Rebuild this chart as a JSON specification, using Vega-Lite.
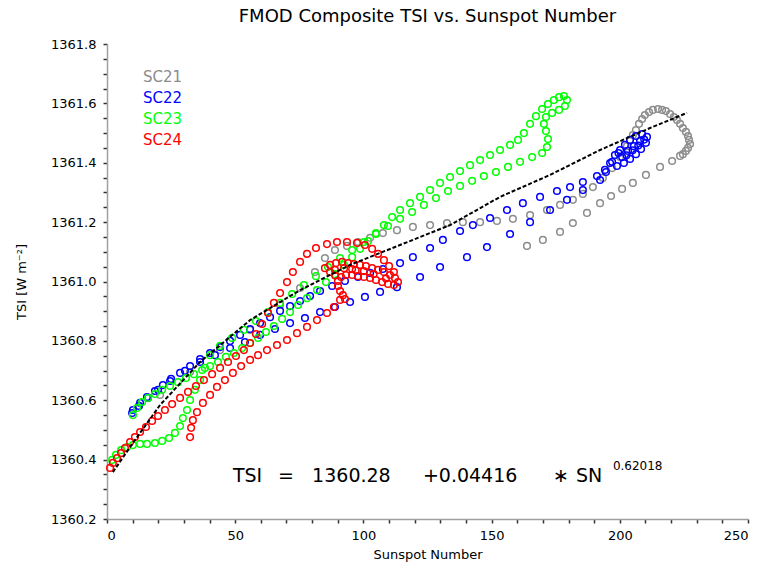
{
  "$schema": "https://vega.github.io/schema/vega-lite/v6.json",
  "width": 641,
  "height": 475,
  "autosize": {"type": "none"},
  "padding": {"left": 107, "top": 44, "right": 19, "bottom": 61},
  "background": "white",
  "title": {"text": "FMOD Composite TSI vs. Sunspot Number", "font": "DejaVu Sans", "fontSize": 18, "fontWeight": "normal", "color": "black", "offset": 12, "anchor": "middle"},
  "config": {
    "view": {"stroke": null, "fill": null},
    "axis": {"grid": false, "ticks": true, "zindex": 1, "domainColor": "#a0a0a0", "domainWidth": 1.5, "tickColor": "#333333", "tickWidth": 1.5, "labelFont": "DejaVu Sans", "labelFontSize": 13, "labelColor": "black", "titleFont": "DejaVu Sans", "titleFontSize": 13, "titleFontWeight": "normal", "titleColor": "black", "labelOverlap": false}
  },
  "datasets": {
    "pts": [
      {"c":"SC21","sn":20.7,"tsi":1360.618},{"c":"SC21","sn":32.4,"tsi":1360.695},{"c":"SC21","sn":44.1,"tsi":1360.769},{"c":"SC21","sn":55.8,"tsi":1360.837},{"c":"SC21","sn":67.5,"tsi":1360.921},{"c":"SC21","sn":75.3,"tsi":1360.978},{"c":"SC21","sn":81.1,"tsi":1361.032},{"c":"SC21","sn":85.0,"tsi":1361.079},
      {"c":"SC21","sn":88.9,"tsi":1361.106},{"c":"SC21","sn":93.6,"tsi":1361.120},{"c":"SC21","sn":97.9,"tsi":1361.133},{"c":"SC21","sn":102.6,"tsi":1361.147},{"c":"SC21","sn":107.6,"tsi":1361.163},{"c":"SC21","sn":113.1,"tsi":1361.173},{"c":"SC21","sn":119.3,"tsi":1361.184},{"c":"SC21","sn":126.0,"tsi":1361.190},{"c":"SC21","sn":132.6,"tsi":1361.197},{"c":"SC21","sn":138.8,"tsi":1361.200},{"c":"SC21","sn":145.5,"tsi":1361.200},{"c":"SC21","sn":152.1,"tsi":1361.204},{"c":"SC21","sn":158.3,"tsi":1361.211},{"c":"SC21","sn":165.0,"tsi":1361.224},{"c":"SC21","sn":171.6,"tsi":1361.241},{"c":"SC21","sn":176.7,"tsi":1361.258},{"c":"SC21","sn":181.7,"tsi":1361.275},{"c":"SC21","sn":185.6,"tsi":1361.295},{"c":"SC21","sn":189.5,"tsi":1361.318},{"c":"SC21","sn":193.4,"tsi":1361.349},{"c":"SC21","sn":197.0,"tsi":1361.382},{"c":"SC21","sn":200.1,"tsi":1361.419},{"c":"SC21","sn":202.8,"tsi":1361.456},{"c":"SC21","sn":205.1,"tsi":1361.493},{"c":"SC21","sn":207.5,"tsi":1361.531},{"c":"SC21","sn":209.8,"tsi":1361.561},{"c":"SC21","sn":212.9,"tsi":1361.578},{"c":"SC21","sn":216.5,"tsi":1361.578},{"c":"SC21","sn":219.6,"tsi":1361.564},{"c":"SC21","sn":222.3,"tsi":1361.544},{"c":"SC21","sn":224.6,"tsi":1361.517},{"c":"SC21","sn":226.6,"tsi":1361.490},{"c":"SC21","sn":227.4,"tsi":1361.463},{"c":"SC21","sn":225.8,"tsi":1361.440},{"c":"SC21","sn":223.5,"tsi":1361.423},
      {"c":"SC21","sn":204.0,"tsi":1361.477},{"c":"SC21","sn":206.3,"tsi":1361.510},{"c":"SC21","sn":208.7,"tsi":1361.547},{"c":"SC21","sn":211.4,"tsi":1361.571},{"c":"SC21","sn":214.9,"tsi":1361.581},{"c":"SC21","sn":218.0,"tsi":1361.574},{"c":"SC21","sn":221.1,"tsi":1361.554},{"c":"SC21","sn":223.5,"tsi":1361.531},{"c":"SC21","sn":225.8,"tsi":1361.504},{"c":"SC21","sn":227.0,"tsi":1361.477},{"c":"SC21","sn":226.6,"tsi":1361.450},{"c":"SC21","sn":224.6,"tsi":1361.429},
      {"c":"SC21","sn":220.4,"tsi":1361.406},{"c":"SC21","sn":215.7,"tsi":1361.386},{"c":"SC21","sn":210.2,"tsi":1361.359},{"c":"SC21","sn":205.1,"tsi":1361.332},{"c":"SC21","sn":200.9,"tsi":1361.312},{"c":"SC21","sn":196.6,"tsi":1361.288},{"c":"SC21","sn":192.3,"tsi":1361.264},{"c":"SC21","sn":187.2,"tsi":1361.231},{"c":"SC21","sn":181.7,"tsi":1361.197},{"c":"SC21","sn":176.7,"tsi":1361.167},{"c":"SC21","sn":170.0,"tsi":1361.140},{"c":"SC21","sn":163.8,"tsi":1361.120},

      {"c":"SC22","sn":10.1,"tsi":1360.567},{"c":"SC22","sn":12.9,"tsi":1360.591},{"c":"SC22","sn":15.6,"tsi":1360.611},{"c":"SC22","sn":18.7,"tsi":1360.631},{"c":"SC22","sn":21.8,"tsi":1360.651},{"c":"SC22","sn":25.0,"tsi":1360.672},{"c":"SC22","sn":28.5,"tsi":1360.692},{"c":"SC22","sn":32.4,"tsi":1360.715},{"c":"SC22","sn":36.3,"tsi":1360.739},{"c":"SC22","sn":40.2,"tsi":1360.759},{"c":"SC22","sn":44.1,"tsi":1360.779},{"c":"SC22","sn":48.0,"tsi":1360.800},{"c":"SC22","sn":51.9,"tsi":1360.820},{"c":"SC22","sn":55.8,"tsi":1360.840},{"c":"SC22","sn":59.7,"tsi":1360.860},{"c":"SC22","sn":63.6,"tsi":1360.880},{"c":"SC22","sn":67.5,"tsi":1360.901},{"c":"SC22","sn":71.4,"tsi":1360.917},{"c":"SC22","sn":75.3,"tsi":1360.934},{"c":"SC22","sn":79.2,"tsi":1360.951},{"c":"SC22","sn":83.1,"tsi":1360.968},{"c":"SC22","sn":87.8,"tsi":1360.985},{"c":"SC22","sn":92.8,"tsi":1361.002},{"c":"SC22","sn":97.9,"tsi":1361.015},{"c":"SC22","sn":102.6,"tsi":1361.029},{"c":"SC22","sn":107.6,"tsi":1361.042},{"c":"SC22","sn":114.3,"tsi":1361.062},{"c":"SC22","sn":119.3,"tsi":1361.082},{"c":"SC22","sn":126.0,"tsi":1361.113},{"c":"SC22","sn":131.0,"tsi":1361.140},{"c":"SC22","sn":137.7,"tsi":1361.170},{"c":"SC22","sn":142.7,"tsi":1361.190},{"c":"SC22","sn":149.4,"tsi":1361.214},{"c":"SC22","sn":156.0,"tsi":1361.241},{"c":"SC22","sn":162.2,"tsi":1361.264},{"c":"SC22","sn":168.9,"tsi":1361.285},{"c":"SC22","sn":175.5,"tsi":1361.305},{"c":"SC22","sn":180.6,"tsi":1361.318},{"c":"SC22","sn":185.6,"tsi":1361.335},{"c":"SC22","sn":191.1,"tsi":1361.355},{"c":"SC22","sn":194.2,"tsi":1361.376},{"c":"SC22","sn":197.0,"tsi":1361.403},
      {"c":"SC22","sn":198.1,"tsi":1361.426},{"c":"SC22","sn":200.1,"tsi":1361.443},{"c":"SC22","sn":202.0,"tsi":1361.460},{"c":"SC22","sn":204.0,"tsi":1361.477},{"c":"SC22","sn":206.3,"tsi":1361.490},{"c":"SC22","sn":208.7,"tsi":1361.497},{"c":"SC22","sn":210.6,"tsi":1361.487},{"c":"SC22","sn":210.2,"tsi":1361.467},{"c":"SC22","sn":208.3,"tsi":1361.446},{"c":"SC22","sn":206.3,"tsi":1361.429},{"c":"SC22","sn":204.0,"tsi":1361.413},{"c":"SC22","sn":201.6,"tsi":1361.399},{"c":"SC22","sn":198.9,"tsi":1361.389},{"c":"SC22","sn":200.9,"tsi":1361.419},{"c":"SC22","sn":203.2,"tsi":1361.440},{"c":"SC22","sn":205.5,"tsi":1361.456},{"c":"SC22","sn":207.9,"tsi":1361.473},{"c":"SC22","sn":196.2,"tsi":1361.399},{"c":"SC22","sn":199.5,"tsi":1361.433},{"c":"SC22","sn":202.6,"tsi":1361.425},{"c":"SC22","sn":205.0,"tsi":1361.442},{"c":"SC22","sn":207.2,"tsi":1361.458},{"c":"SC22","sn":209.5,"tsi":1361.478},
      {"c":"SC22","sn":194.6,"tsi":1361.369},{"c":"SC22","sn":192.3,"tsi":1361.342},{"c":"SC22","sn":185.6,"tsi":1361.308},{"c":"SC22","sn":179.4,"tsi":1361.275},{"c":"SC22","sn":172.8,"tsi":1361.241},{"c":"SC22","sn":165.0,"tsi":1361.200},{"c":"SC22","sn":157.2,"tsi":1361.160},{"c":"SC22","sn":148.2,"tsi":1361.116},{"c":"SC22","sn":140.4,"tsi":1361.082},{"c":"SC22","sn":129.9,"tsi":1361.049},{"c":"SC22","sn":122.1,"tsi":1361.015},{"c":"SC22","sn":113.1,"tsi":1360.981},{"c":"SC22","sn":106.5,"tsi":1360.965},{"c":"SC22","sn":100.6,"tsi":1360.948},{"c":"SC22","sn":94.8,"tsi":1360.931},{"c":"SC22","sn":88.9,"tsi":1360.914},{"c":"SC22","sn":83.1,"tsi":1360.897},{"c":"SC22","sn":77.2,"tsi":1360.877},{"c":"SC22","sn":71.4,"tsi":1360.860},{"c":"SC22","sn":65.5,"tsi":1360.840},{"c":"SC22","sn":59.7,"tsi":1360.820},{"c":"SC22","sn":53.8,"tsi":1360.796},{"c":"SC22","sn":48.0,"tsi":1360.776},{"c":"SC22","sn":42.1,"tsi":1360.752},{"c":"SC22","sn":36.3,"tsi":1360.729},{"c":"SC22","sn":30.4,"tsi":1360.699},{"c":"SC22","sn":24.6,"tsi":1360.665},{"c":"SC22","sn":19.9,"tsi":1360.635},{"c":"SC22","sn":16.0,"tsi":1360.608},{"c":"SC22","sn":12.5,"tsi":1360.581},{"c":"SC22","sn":9.8,"tsi":1360.557},

      {"c":"SC23","sn":10.1,"tsi":1360.550},{"c":"SC23","sn":11.7,"tsi":1360.574},{"c":"SC23","sn":13.7,"tsi":1360.594},{"c":"SC23","sn":16.0,"tsi":1360.608},{"c":"SC23","sn":18.7,"tsi":1360.621},{"c":"SC23","sn":21.5,"tsi":1360.635},{"c":"SC23","sn":24.6,"tsi":1360.648},{"c":"SC23","sn":27.7,"tsi":1360.661},{"c":"SC23","sn":30.8,"tsi":1360.675},{"c":"SC23","sn":33.9,"tsi":1360.688},{"c":"SC23","sn":37.1,"tsi":1360.702},{"c":"SC23","sn":40.2,"tsi":1360.715},{"c":"SC23","sn":43.3,"tsi":1360.729},{"c":"SC23","sn":46.4,"tsi":1360.746},{"c":"SC23","sn":49.5,"tsi":1360.759},{"c":"SC23","sn":52.7,"tsi":1360.776},{"c":"SC23","sn":55.8,"tsi":1360.793},{"c":"SC23","sn":58.9,"tsi":1360.810},{"c":"SC23","sn":62.0,"tsi":1360.830},{"c":"SC23","sn":65.1,"tsi":1360.850},{"c":"SC23","sn":68.3,"tsi":1360.874},{"c":"SC23","sn":71.4,"tsi":1360.897},{"c":"SC23","sn":74.5,"tsi":1360.921},{"c":"SC23","sn":78.0,"tsi":1360.944},{"c":"SC23","sn":81.9,"tsi":1360.971},{"c":"SC23","sn":85.4,"tsi":1360.998},{"c":"SC23","sn":88.9,"tsi":1361.025},{"c":"SC23","sn":92.4,"tsi":1361.056},{"c":"SC23","sn":95.6,"tsi":1361.082},{"c":"SC23","sn":98.7,"tsi":1361.110},{"c":"SC23","sn":101.8,"tsi":1361.136},{"c":"SC23","sn":104.9,"tsi":1361.163},{"c":"SC23","sn":108.0,"tsi":1361.190},{"c":"SC23","sn":111.2,"tsi":1361.217},{"c":"SC23","sn":114.3,"tsi":1361.241},{"c":"SC23","sn":118.2,"tsi":1361.264},{"c":"SC23","sn":122.1,"tsi":1361.285},{"c":"SC23","sn":126.0,"tsi":1361.308},{"c":"SC23","sn":129.9,"tsi":1361.332},{"c":"SC23","sn":133.8,"tsi":1361.352},{"c":"SC23","sn":137.7,"tsi":1361.372},{"c":"SC23","sn":141.6,"tsi":1361.392},{"c":"SC23","sn":145.5,"tsi":1361.409},{"c":"SC23","sn":149.4,"tsi":1361.426},{"c":"SC23","sn":153.3,"tsi":1361.443},{"c":"SC23","sn":157.2,"tsi":1361.460},{"c":"SC23","sn":160.3,"tsi":1361.477},{"c":"SC23","sn":162.6,"tsi":1361.500},{"c":"SC23","sn":165.0,"tsi":1361.531},{"c":"SC23","sn":167.3,"tsi":1361.557},{"c":"SC23","sn":169.7,"tsi":1361.581},{"c":"SC23","sn":172.0,"tsi":1361.598},{"c":"SC23","sn":174.3,"tsi":1361.611},{"c":"SC23","sn":176.3,"tsi":1361.621},{"c":"SC23","sn":178.2,"tsi":1361.625},{"c":"SC23","sn":179.4,"tsi":1361.611},{"c":"SC23","sn":178.6,"tsi":1361.591},{"c":"SC23","sn":176.3,"tsi":1361.578},{"c":"SC23","sn":173.6,"tsi":1361.568},{"c":"SC23","sn":171.2,"tsi":1361.554},{"c":"SC23","sn":170.4,"tsi":1361.531},{"c":"SC23","sn":171.2,"tsi":1361.507},{"c":"SC23","sn":172.0,"tsi":1361.480},{"c":"SC23","sn":171.6,"tsi":1361.453},
      {"c":"SC23","sn":169.7,"tsi":1361.433},{"c":"SC23","sn":165.8,"tsi":1361.419},{"c":"SC23","sn":161.1,"tsi":1361.403},{"c":"SC23","sn":156.4,"tsi":1361.386},{"c":"SC23","sn":151.7,"tsi":1361.369},{"c":"SC23","sn":147.0,"tsi":1361.355},{"c":"SC23","sn":142.4,"tsi":1361.339},{"c":"SC23","sn":137.7,"tsi":1361.322},{"c":"SC23","sn":133.0,"tsi":1361.305},{"c":"SC23","sn":128.3,"tsi":1361.281},{"c":"SC23","sn":123.6,"tsi":1361.258},{"c":"SC23","sn":119.0,"tsi":1361.234},{"c":"SC23","sn":114.3,"tsi":1361.211},{"c":"SC23","sn":109.6,"tsi":1361.187},{"c":"SC23","sn":104.9,"tsi":1361.160},{"c":"SC23","sn":100.2,"tsi":1361.133},{"c":"SC23","sn":95.6,"tsi":1361.106},{"c":"SC23","sn":90.9,"tsi":1361.079},{"c":"SC23","sn":86.2,"tsi":1361.049},{"c":"SC23","sn":81.5,"tsi":1361.018},{"c":"SC23","sn":76.8,"tsi":1360.988},{"c":"SC23","sn":72.2,"tsi":1360.958},{"c":"SC23","sn":67.5,"tsi":1360.928},{"c":"SC23","sn":62.8,"tsi":1360.897},{"c":"SC23","sn":58.1,"tsi":1360.867},{"c":"SC23","sn":53.4,"tsi":1360.837},{"c":"SC23","sn":48.8,"tsi":1360.810},{"c":"SC23","sn":44.1,"tsi":1360.783},{"c":"SC23","sn":40.2,"tsi":1360.752},{"c":"SC23","sn":38.2,"tsi":1360.709},{"c":"SC23","sn":36.3,"tsi":1360.668},{"c":"SC23","sn":34.3,"tsi":1360.635},{"c":"SC23","sn":32.4,"tsi":1360.601},{"c":"SC23","sn":31.2,"tsi":1360.567},{"c":"SC23","sn":29.6,"tsi":1360.540},{"c":"SC23","sn":28.5,"tsi":1360.513},{"c":"SC23","sn":26.5,"tsi":1360.490},{"c":"SC23","sn":24.2,"tsi":1360.473},{"c":"SC23","sn":21.5,"tsi":1360.463},{"c":"SC23","sn":18.7,"tsi":1360.456},{"c":"SC23","sn":15.6,"tsi":1360.453},{"c":"SC23","sn":12.9,"tsi":1360.453},{"c":"SC23","sn":10.1,"tsi":1360.449},{"c":"SC23","sn":7.8,"tsi":1360.442},{"c":"SC23","sn":5.5,"tsi":1360.432},{"c":"SC23","sn":3.5,"tsi":1360.416},{"c":"SC23","sn":2.0,"tsi":1360.399},

      {"c":"SC24","sn":1.2,"tsi":1360.372},{"c":"SC24","sn":2.3,"tsi":1360.389},{"c":"SC24","sn":3.9,"tsi":1360.405},{"c":"SC24","sn":5.5,"tsi":1360.422},{"c":"SC24","sn":7.0,"tsi":1360.439},{"c":"SC24","sn":9.0,"tsi":1360.459},{"c":"SC24","sn":10.9,"tsi":1360.476},{"c":"SC24","sn":12.9,"tsi":1360.493},{"c":"SC24","sn":15.2,"tsi":1360.510},{"c":"SC24","sn":17.6,"tsi":1360.530},{"c":"SC24","sn":19.9,"tsi":1360.547},{"c":"SC24","sn":22.6,"tsi":1360.567},{"c":"SC24","sn":25.4,"tsi":1360.587},{"c":"SC24","sn":28.5,"tsi":1360.608},{"c":"SC24","sn":31.6,"tsi":1360.628},{"c":"SC24","sn":34.7,"tsi":1360.648},{"c":"SC24","sn":37.8,"tsi":1360.668},{"c":"SC24","sn":41.0,"tsi":1360.688},{"c":"SC24","sn":44.1,"tsi":1360.709},{"c":"SC24","sn":47.2,"tsi":1360.729},{"c":"SC24","sn":50.3,"tsi":1360.749},{"c":"SC24","sn":53.4,"tsi":1360.769},{"c":"SC24","sn":55.8,"tsi":1360.793},{"c":"SC24","sn":58.1,"tsi":1360.823},{"c":"SC24","sn":60.5,"tsi":1360.857},{"c":"SC24","sn":62.8,"tsi":1360.894},{"c":"SC24","sn":65.1,"tsi":1360.928},{"c":"SC24","sn":67.5,"tsi":1360.961},{"c":"SC24","sn":70.2,"tsi":1360.998},{"c":"SC24","sn":72.5,"tsi":1361.032},{"c":"SC24","sn":75.3,"tsi":1361.066},{"c":"SC24","sn":78.0,"tsi":1361.093},{"c":"SC24","sn":81.5,"tsi":1361.113},{"c":"SC24","sn":85.8,"tsi":1361.126},{"c":"SC24","sn":89.7,"tsi":1361.133},{"c":"SC24","sn":93.6,"tsi":1361.133},{"c":"SC24","sn":97.5,"tsi":1361.130},{"c":"SC24","sn":100.6,"tsi":1361.123},{"c":"SC24","sn":103.4,"tsi":1361.110},{"c":"SC24","sn":105.7,"tsi":1361.093},{"c":"SC24","sn":108.0,"tsi":1361.072},{"c":"SC24","sn":110.0,"tsi":1361.052},{"c":"SC24","sn":111.9,"tsi":1361.032},
      {"c":"SC24","sn":85.0,"tsi":1361.045},{"c":"SC24","sn":87.0,"tsi":1361.056},{"c":"SC24","sn":89.3,"tsi":1361.062},{"c":"SC24","sn":91.7,"tsi":1361.066},{"c":"SC24","sn":94.0,"tsi":1361.062},{"c":"SC24","sn":96.3,"tsi":1361.059},{"c":"SC24","sn":98.7,"tsi":1361.056},{"c":"SC24","sn":101.0,"tsi":1361.052},{"c":"SC24","sn":103.4,"tsi":1361.045},{"c":"SC24","sn":105.7,"tsi":1361.039},{"c":"SC24","sn":108.0,"tsi":1361.032},{"c":"SC24","sn":110.4,"tsi":1361.022},{"c":"SC24","sn":112.3,"tsi":1361.012},{"c":"SC24","sn":113.5,"tsi":1360.998},{"c":"SC24","sn":111.9,"tsi":1360.988},{"c":"SC24","sn":109.6,"tsi":1360.992},{"c":"SC24","sn":107.3,"tsi":1360.998},{"c":"SC24","sn":104.9,"tsi":1361.005},{"c":"SC24","sn":102.6,"tsi":1361.012},{"c":"SC24","sn":100.2,"tsi":1361.015},{"c":"SC24","sn":97.9,"tsi":1361.018},{"c":"SC24","sn":95.6,"tsi":1361.022},{"c":"SC24","sn":93.2,"tsi":1361.022},{"c":"SC24","sn":91.3,"tsi":1361.015},{"c":"SC24","sn":90.1,"tsi":1361.002},{"c":"SC24","sn":90.1,"tsi":1360.985},{"c":"SC24","sn":90.9,"tsi":1360.968},{"c":"SC24","sn":92.0,"tsi":1360.954},{"c":"SC24","sn":92.8,"tsi":1360.941},{"c":"SC24","sn":87.0,"tsi":1361.032},{"c":"SC24","sn":88.9,"tsi":1361.039},{"c":"SC24","sn":95.6,"tsi":1361.042},{"c":"SC24","sn":100.2,"tsi":1361.035},{"c":"SC24","sn":92.5,"tsi":1361.045},{"c":"SC24","sn":97.0,"tsi":1361.038},{"c":"SC24","sn":104.0,"tsi":1361.025},{"c":"SC24","sn":108.8,"tsi":1361.010},{"c":"SC24","sn":89.0,"tsi":1361.020},
      {"c":"SC24","sn":90.9,"tsi":1360.938},{"c":"SC24","sn":88.5,"tsi":1360.914},{"c":"SC24","sn":85.8,"tsi":1360.894},{"c":"SC24","sn":81.9,"tsi":1360.870},{"c":"SC24","sn":78.0,"tsi":1360.847},{"c":"SC24","sn":74.1,"tsi":1360.826},{"c":"SC24","sn":70.2,"tsi":1360.803},{"c":"SC24","sn":66.3,"tsi":1360.786},{"c":"SC24","sn":62.4,"tsi":1360.769},{"c":"SC24","sn":58.9,"tsi":1360.752},{"c":"SC24","sn":55.8,"tsi":1360.736},{"c":"SC24","sn":52.3,"tsi":1360.715},{"c":"SC24","sn":49.1,"tsi":1360.692},{"c":"SC24","sn":46.0,"tsi":1360.668},{"c":"SC24","sn":42.9,"tsi":1360.645},{"c":"SC24","sn":40.2,"tsi":1360.618},{"c":"SC24","sn":37.4,"tsi":1360.591},{"c":"SC24","sn":35.1,"tsi":1360.560},{"c":"SC24","sn":33.5,"tsi":1360.533},{"c":"SC24","sn":32.8,"tsi":1360.507},{"c":"SC24","sn":32.4,"tsi":1360.476}
    ],
    "fit": [
      {"sn":2.3,"tsi":1360.358},{"sn":10.1,"tsi":1360.456},{"sn":20.7,"tsi":1360.584},{"sn":36.3,"tsi":1360.729},{"sn":55.8,"tsi":1360.870},{"sn":75.3,"tsi":1360.971},{"sn":94.8,"tsi":1361.056},{"sn":114.3,"tsi":1361.123},{"sn":133.8,"tsi":1361.190},{"sn":153.3,"tsi":1361.285},{"sn":172.8,"tsi":1361.359},{"sn":192.3,"tsi":1361.443},{"sn":211.8,"tsi":1361.517},{"sn":226.2,"tsi":1361.568}
    ],
    "leg": [
      {"c":"SC21","sn":14.0,"tsi":1361.689},{"c":"SC22","sn":14.0,"tsi":1361.618},{"c":"SC23","sn":14.0,"tsi":1361.547},{"c":"SC24","sn":14.0,"tsi":1361.477}
    ],
    "eq": [
      {"t":"TSI","sn":49.1,"tsi":1360.325},{"t":"=","sn":66.7,"tsi":1360.325},{"t":"1360.28","sn":80.0,"tsi":1360.325},{"t":"+0.04416","sn":123.2,"tsi":1360.325},{"t":"∗","sn":173.9,"tsi":1360.325},{"t":"SN","sn":182.9,"tsi":1360.325}
    ],
    "sup": [
      {"t":"0.62018","sn":197.3,"tsi":1360.365}
    ]
  },
  "encoding": {
    "x": {"field": "sn", "type": "quantitative", "scale": {"domain": [0, 250], "nice": false, "zero": false},
      "axis": {"title": "Sunspot Number", "values": [0,10,20,30,40,50,60,70,80,90,100,110,120,130,140,150,160,170,180,190,200,210,220,230,240,250],
        "labelExpr": "datum.value % 50 === 0 ? datum.label : ''", "format": "d", "labelOverlap": false,
        "ticks": true, "tickSize": 4,
        "labelPadding": 6, "titlePadding": 6}},
    "y": {"field": "tsi", "type": "quantitative", "scale": {"domain": [1360.2, 1361.8], "nice": false, "zero": false},
      "axis": {"title": "TSI [W m⁻²]", "values": [1360.2,1360.25,1360.3,1360.35,1360.4,1360.45,1360.5,1360.55,1360.6,1360.65,1360.7,1360.75,1360.8,1360.85,1360.9,1360.95,1361.0,1361.05,1361.1,1361.15,1361.2,1361.25,1361.3,1361.35,1361.4,1361.45,1361.5,1361.55,1361.6,1361.65,1361.7,1361.75,1361.8],
        "format": ".1f", "labelExpr": "round(datum.value * 100) % 20 === 0 ? datum.label : ''", "labelOverlap": false,
        "ticks": true, "tickSize": 4,
        "labelPadding": 7, "titlePadding": 22}}
  },
  "layer": [
    {
      "data": {"name": "pts"},
      "mark": {"type": "point", "shape": "circle", "filled": false, "size": 44, "strokeWidth": 1.5, "opacity": 1},
      "encoding": {
        "color": {"field": "c", "type": "nominal", "scale": {"domain": ["SC21", "SC22", "SC23", "SC24"], "range": ["#8c8c8c", "#0000ff", "#00ff00", "#ff0000"]}, "legend": null}
      }
    },
    {
      "data": {"name": "fit"},
      "mark": {"type": "line", "color": "black", "strokeWidth": 2, "strokeDash": [4, 2]},
      "encoding": {}
    },
    {
      "data": {"name": "leg"},
      "mark": {"type": "text", "align": "left", "baseline": "middle", "font": "DejaVu Sans", "fontSize": 15},
      "encoding": {"text": {"field": "c"}, "color": {"field": "c", "type": "nominal", "legend": null}}
    },
    {
      "data": {"name": "eq"},
      "mark": {"type": "text", "align": "left", "baseline": "alphabetic", "font": "DejaVu Sans", "fontSize": 19, "color": "black"},
      "encoding": {"text": {"field": "t"}}
    },
    {
      "data": {"name": "sup"},
      "mark": {"type": "text", "align": "left", "baseline": "alphabetic", "font": "DejaVu Sans", "fontSize": 12, "color": "black"},
      "encoding": {"text": {"field": "t"}}
    }
  ]
}
